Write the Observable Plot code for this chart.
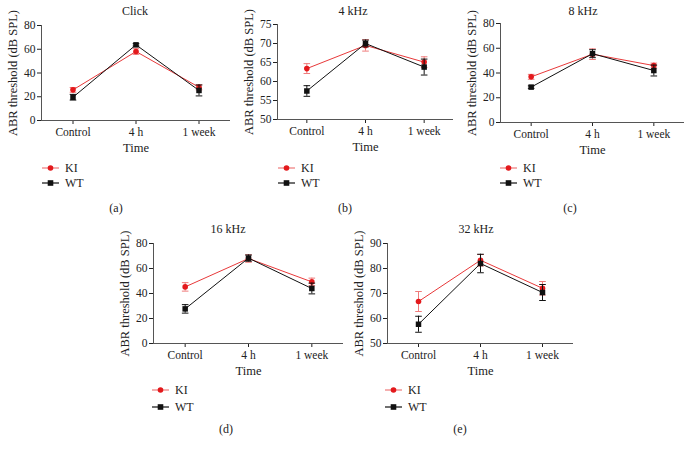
<!DOCTYPE html>
<html>
<head>
<meta charset="utf-8">
<script src="https://cdn.jsdelivr.net/npm/d3@7"></script>
<script src="https://cdn.jsdelivr.net/npm/@observablehq/plot@0.6"></script>
<style>
  html, body { margin: 0; padding: 0; background: #fff; }
  #root { position: relative; width: 692px; height: 451px; font-family: "Liberation Serif", "DejaVu Serif", serif; color: #222; }
  .abs { position: absolute; }
  .title, .plabel { position: absolute; font-size: 12px; transform: translate(-50%, -50%); white-space: nowrap; }
  svg text { font-family: "Liberation Serif", "DejaVu Serif", serif; }
  g[aria-label="y-axis label"] text, g[aria-label="x-axis label"] text { font-size: 12.5px; }
</style>
</head>
<body>
<div id="root"></div>
<script>
// ---- data ----
const categories = ["Control", "4 h", "1 week"];
const groups = ["KI", "WT"];
const yTitle = "ABR threshold (dB SPL)";
const xTitle = "Time";

const panelTitles = ["Click", "4 kHz", "8 kHz", "16 kHz", "32 kHz"];
const panelLetters = ["(a)", "(b)", "(c)", "(d)", "(e)"];

const clickKI = [25.8, 58.1, 28.0];
const clickKIerr = [2.0, 2.4, 2.2];
const clickWT = [19.6, 63.7, 25.3];
const clickWTerr = [2.4, 1.0, 4.6];

const khz4KI = [63.4, 69.5, 65.1];
const khz4KIerr = [1.3, 1.5, 1.4];
const khz4WT = [57.5, 70.0, 63.8];
const khz4WTerr = [1.4, 0.9, 2.1];

const khz8KI = [36.9, 55.2, 46.0];
const khz8KIerr = [2.0, 4.3, 2.0];
const khz8WT = [28.6, 55.6, 42.0];
const khz8WTerr = [1.0, 3.2, 4.4];

const khz16KI = [45.3, 68.0, 49.3];
const khz16KIerr = [3.4, 3.0, 3.0];
const khz16WT = [27.7, 68.3, 44.0];
const khz16WTerr = [3.4, 2.5, 4.3];

const khz32KI = [66.8, 83.3, 72.1];
const khz32KIerr = [4.0, 2.3, 2.7];
const khz32WT = [57.7, 82.0, 70.4];
const khz32WTerr = [3.2, 3.7, 3.2];

const yDomains = [[0, 80], [50, 75], [0, 80], [0, 80], [50, 90]];
const yTickSets = [[0, 20, 40, 60, 80], [50, 55, 60, 65, 70, 75], [0, 20, 40, 60, 80], [0, 20, 40, 60, 80], [50, 60, 70, 80, 90]];

const seriesKI = [clickKI, khz4KI, khz8KI, khz16KI, khz32KI];
const seriesKIerr = [clickKIerr, khz4KIerr, khz8KIerr, khz16KIerr, khz32KIerr];
const seriesWT = [clickWT, khz4WT, khz8WT, khz16WT, khz32WT];
const seriesWTerr = [clickWTerr, khz4WTerr, khz8WTerr, khz16WTerr, khz32WTerr];

// ---- style / layout ----
const fontStack = '"Liberation Serif", "DejaVu Serif", serif';
const red = "#e3191c";
const redLine = "#e8393a";
const redErr = "#ef7b7b";
const black = "#111";
const axisColor = "#555";

// svg placement & margins for each panel
const layout = [
  {left: 0,   top: 0,   width: 240, height: 160, ml: 41, mr: 10, mt: 25, mb: 40, titleX: 135, titleY: 11, legX: 42,  legY: 168, letX: 116, letY: 208},
  {left: 230, top: 0,   width: 233, height: 159, ml: 47, mr: 10, mt: 24, mb: 40, titleX: 353, titleY: 11, legX: 278, legY: 168, letX: 345, letY: 208},
  {left: 460, top: 0,   width: 232, height: 162, ml: 40, mr: 8,  mt: 23, mb: 40, titleX: 583, titleY: 11, legX: 500, legY: 168, letX: 570, letY: 208},
  {left: 110, top: 220, width: 243, height: 163, ml: 43, mr: 10, mt: 23, mb: 40, titleX: 228, titleY: 229, legX: 152, legY: 390, letX: 226, letY: 429},
  {left: 345, top: 220, width: 238, height: 163, ml: 42, mr: 10, mt: 23, mb: 40, titleX: 476, titleY: 229, legX: 385, legY: 390, letX: 460, letY: 429}
];

const capSymbol = {
  draw(context, size) {
    const r = Math.sqrt(size / Math.PI);
    context.moveTo(-r, 0);
    context.lineTo(r, 0);
  }
};

const root = document.getElementById("root");

function makeRows(vals, errs, group) {
  return categories.map((c, i) => ({group, i, value: vals[i], err: errs[i]}));
}

for (let p = 0; p < 5; p++) {
  const L = layout[p];
  const ki = makeRows(seriesKI[p], seriesKIerr[p], "KI");
  const wt = makeRows(seriesWT[p], seriesWTerr[p], "WT");
  const xDomain = [-0.5, categories.length - 0.5];
  const yDomain = yDomains[p];

  const errMarks = (rows, color) => [
    Plot.ruleX(rows, {x: "i", y1: d => d.value - d.err, y2: d => d.value + d.err, stroke: color, strokeWidth: 1}),
    Plot.dot(rows, {x: "i", y: d => d.value + d.err, symbol: capSymbol, r: 3.3, stroke: color, strokeWidth: 1, fill: "none"}),
    Plot.dot(rows, {x: "i", y: d => d.value - d.err, symbol: capSymbol, r: 3.3, stroke: color, strokeWidth: 1, fill: "none"})
  ];

  const chart = Plot.plot({
    width: L.width,
    height: L.height,
    marginLeft: L.ml,
    marginRight: L.mr,
    marginTop: L.mt,
    marginBottom: L.mb,
    style: {fontFamily: fontStack, fontSize: "11.5px", color: "#222", background: "transparent", overflow: "visible"},
    x: {domain: xDomain, ticks: categories.map((c, i) => i), tickFormat: i => categories[i], tickSize: 4, tickPadding: 3,
        label: xTitle, labelAnchor: "center", labelOffset: 31, labelArrow: "none"},
    y: {domain: yDomain, ticks: yTickSets[p], tickSize: 4, tickPadding: 2,
        label: yTitle, labelAnchor: "center", labelOffset: 33, labelArrow: "none"},
    marks: [
      Plot.ruleX([xDomain[0]], {stroke: axisColor, strokeWidth: 1}),
      Plot.ruleY([yDomain[0]], {stroke: axisColor, strokeWidth: 1}),
      ...errMarks(ki, redErr),
      Plot.line(ki, {x: "i", y: "value", stroke: redLine, strokeWidth: 1}),
      Plot.dot(ki, {x: "i", y: "value", r: 2.8, fill: red, stroke: "none"}),
      ...errMarks(wt, black),
      Plot.line(wt, {x: "i", y: "value", stroke: black, strokeWidth: 1}),
      Plot.dot(wt, {x: "i", y: "value", symbol: "square", r: 3.1, fill: black, stroke: "none"})
    ]
  });
  chart.classList.add("abs");
  chart.style.left = L.left + "px";
  chart.style.top = L.top + "px";
  root.appendChild(chart);

  const t = document.createElement("div");
  t.className = "title";
  t.textContent = panelTitles[p];
  t.style.left = L.titleX + "px";
  t.style.top = L.titleY + "px";
  root.appendChild(t);

  const letter = document.createElement("div");
  letter.className = "plabel";
  letter.textContent = panelLetters[p];
  letter.style.left = L.letX + "px";
  letter.style.top = L.letY + "px";
  root.appendChild(letter);

  // legend
  const ns = "http://www.w3.org/2000/svg";
  const leg = document.createElementNS(ns, "svg");
  leg.setAttribute("width", 60);
  leg.setAttribute("height", 30);
  leg.style.position = "absolute";
  leg.style.left = L.legX + "px";
  leg.style.top = (L.legY - 7) + "px";
  leg.style.fontFamily = fontStack;
  leg.style.fontSize = "12px";
  groups.forEach((g, k) => {
    const cy = 7 + k * (p < 3 ? 15 : 17);
    const line = document.createElementNS(ns, "line");
    line.setAttribute("x1", 0); line.setAttribute("x2", 17);
    line.setAttribute("y1", cy); line.setAttribute("y2", cy);
    line.setAttribute("stroke", g === "KI" ? redErr : black);
    line.setAttribute("stroke-width", 1.2);
    leg.appendChild(line);
    let m;
    if (g === "KI") {
      m = document.createElementNS(ns, "circle");
      m.setAttribute("cx", 8.5); m.setAttribute("cy", cy); m.setAttribute("r", 2.8);
      m.setAttribute("fill", red);
    } else {
      m = document.createElementNS(ns, "rect");
      m.setAttribute("x", 5.7); m.setAttribute("y", cy - 2.8);
      m.setAttribute("width", 5.6); m.setAttribute("height", 5.6);
      m.setAttribute("fill", black);
    }
    leg.appendChild(m);
    const tx = document.createElementNS(ns, "text");
    tx.setAttribute("x", 23); tx.setAttribute("y", cy);
    tx.setAttribute("dy", "0.35em");
    tx.setAttribute("fill", "#222");
    tx.textContent = g;
    leg.appendChild(tx);
  });
  root.appendChild(leg);
}
</script>
</body>
</html>
